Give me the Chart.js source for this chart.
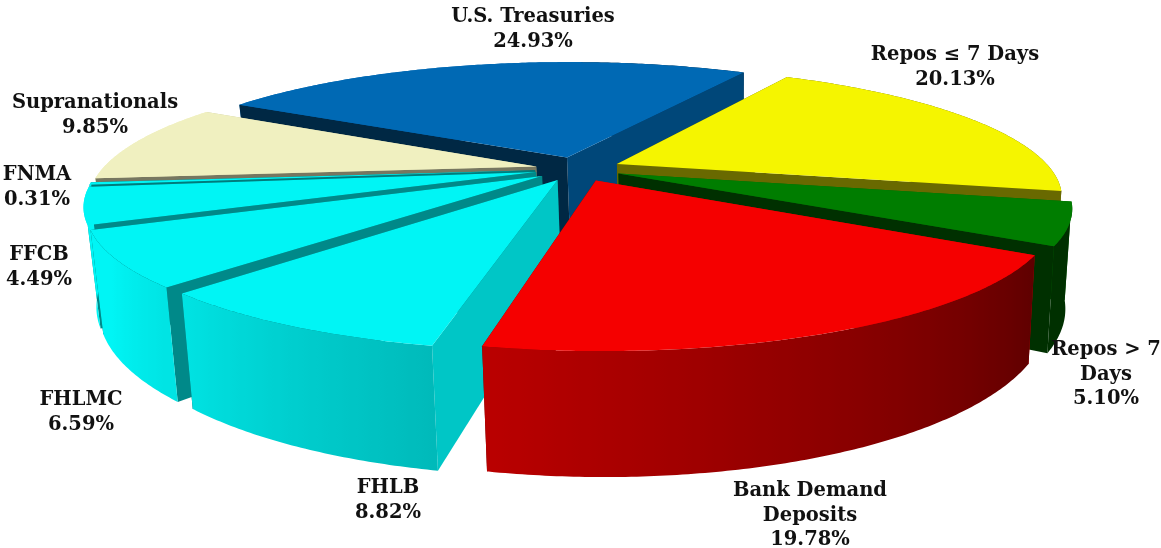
<!DOCTYPE html>
<html>
<head>
<meta charset="utf-8">
<title>Portfolio composition</title>
<script src="https://cdn.jsdelivr.net/npm/chart.js@4/dist/chart.umd.min.js"></script>
<style>
  html, body { margin: 0; padding: 0; background: #fff; }
  #wrap { position: relative; width: 1161px; height: 548px; overflow: hidden; }
</style>
</head>
<body>
<div id="wrap"><canvas id="myChart"></canvas></div>
<script>
// Data, clockwise from the left edge of U.S. Treasuries
const categories = ["U.S. Treasuries", "Repos ≤ 7 Days", "Repos > 7 Days", "Bank Demand Deposits", "FHLB", "FHLMC", "FFCB", "FNMA", "Supranationals"];
const shares = [24.93, 20.13, 5.10, 19.78, 8.82, 6.59, 4.49, 0.31, 9.85];

const sliceColors = ["#0069b4", "#f5f500", "#007d00", "#f50000", "#00f5f5", "#00f5f5", "#00f5f5", "#00f5f5", "#f0f0c0"];

// how each label wraps and where it sits
const labelWraps = [["U.S. Treasuries"], ["Repos ≤ 7 Days"], ["Repos > 7", "Days"], ["Bank Demand", "Deposits"], ["FHLB"], ["FHLMC"], ["FFCB"], ["FNMA"], ["Supranationals"]];
const labelX = [533, 955, 1106, 810, 388, 81, 39, 37, 95];
const labelY = [22, 60, 355, 496, 493, 405, 260, 180, 108];
const lineGap = 24.5;

// fake 3D camera
const tilt = 0.284;
const persp = 0.24;
const depth = 93;
const bottomShrink = 0.02;
const bottomShift = 3;

function project(arc, u, v, z) {
  const s = 1 / (1 - persp * v / arc.outerRadius);
  return {
    x: arc.x + u * s * (1 - bottomShrink * z) + bottomShift * z,
    y: arc.y + tilt * v * s + z * depth * s
  };
}

function shadeColor(hex, f) {
  const n = parseInt(hex.slice(1), 16);
  const r = Math.round(((n >> 16) & 255) * f);
  const g = Math.round(((n >> 8) & 255) * f);
  const b = Math.round((n & 255) * f);
  return "rgb(" + r + "," + g + "," + b + ")";
}

// clock angle of a chart.js angle, 0 = up, clockwise, in degrees
function clockDeg(a) {
  return (a * 180 / Math.PI + 90 + 360) % 360;
}

// outer wall gets lighter going round from the right to the left
function wallShade(a) {
  const t = clockDeg(a);
  return Math.min(1, Math.max(0.38, 0.38 + (t - 120) * 0.0053));
}

// flat cut faces, by the direction they look at
const faceAngles = [100, 120, 133, 157, 174, 192, 210];
const faceShades = [0.82, 0.67, 0.56, 0.56, 0.5, 0.43, 0.38];
function faceShade(deg) {
  if (deg <= faceAngles[0]) return faceShades[0];
  for (let i = 1; i < faceAngles.length; i++) {
    if (deg <= faceAngles[i]) {
      const t = (deg - faceAngles[i - 1]) / (faceAngles[i] - faceAngles[i - 1]);
      return faceShades[i - 1] + t * (faceShades[i] - faceShades[i - 1]);
    }
  }
  return faceShades[faceShades.length - 1];
}

function fillPoly(ctx, pts, color) {
  ctx.beginPath();
  pts.forEach((p, i) => { if (i === 0) ctx.moveTo(p.x, p.y); else ctx.lineTo(p.x, p.y); });
  ctx.closePath();
  ctx.fillStyle = color;
  ctx.fill();
}

function drawSlice(ctx, arc) {
  const color = arc.options.backgroundColor;
  const mid = (arc.startAngle + arc.endAngle) / 2;
  const ou = arc.options.offset * Math.cos(mid);
  const ov = arc.options.offset * Math.sin(mid);
  const R = arc.outerRadius;
  const p = (a, r, z) => project(arc, ou + r * Math.cos(a), ov + r * Math.sin(a), z);

  const wall = () => {
    const angles = [];
    for (let a = arc.startAngle; a < arc.endAngle; a += 0.01) angles.push(a);
    angles.push(arc.endAngle);
    const topEdge = angles.map(a => p(a, R, 0));
    const lowEdge = angles.map(a => p(a, R, 1));
    const xs = topEdge.map(q => q.x);
    const x0 = Math.min(...xs), x1 = Math.max(...xs);
    const grad = ctx.createLinearGradient(x0, 0, x1 + 0.01, 0);
    angles.forEach((a, i) => grad.addColorStop((xs[i] - x0) / (x1 + 0.01 - x0), shadeColor(color, wallShade(a))));
    fillPoly(ctx, topEdge.concat(lowEdge.reverse()), grad);
  };
  const face = (a, look) => {
    fillPoly(ctx, [p(a, 0, 0), p(a, R, 0), p(a, R, 1), p(a, 0, 1)], shadeColor(color, faceShade(look)));
  };
  const faces = () => {
    const startLook = (clockDeg(arc.startAngle) - 90 + 360) % 360;
    const endLook = (clockDeg(arc.endAngle) + 90) % 360;
    // the face turned away from us goes first
    if (Math.cos(mid) < 0) {
      face(arc.endAngle, endLook);
      face(arc.startAngle, startLook);
    } else {
      face(arc.startAngle, startLook);
      face(arc.endAngle, endLook);
    }
  };

  if (Math.sin(mid) > 0) { faces(); wall(); } else { wall(); faces(); }

  const top = [p(arc.startAngle, 0, 0)];
  for (let a = arc.startAngle; a < arc.endAngle; a += 0.01) top.push(p(a, R, 0));
  top.push(p(arc.endAngle, R, 0));
  fillPoly(ctx, top, color);
}

// draws the pie's arcs tipped over, back slices first
const tiltedPie = {
  id: "tiltedPie",
  beforeDatasetDraw(chart, args) {
    const ctx = chart.ctx;
    const arcs = chart.getDatasetMeta(args.index).data.slice();
    arcs.sort((a, b) => Math.sin((a.startAngle + a.endAngle) / 2) - Math.sin((b.startAngle + b.endAngle) / 2));
    arcs.forEach(arc => drawSlice(ctx, arc));
    return false;
  },
  afterDraw(chart) {
    const ctx = chart.ctx;
    ctx.save();
    ctx.font = "bold 19.5px 'DejaVu Serif'";
    ctx.fillStyle = "#111";
    ctx.textAlign = "center";
    ctx.textBaseline = "alphabetic";
    categories.forEach((name, i) => {
      const lines = labelWraps[i].concat(shares[i].toFixed(2) + "%");
      lines.forEach((line, j) => ctx.fillText(line, labelX[i], labelY[i] + j * lineGap));
    });
    ctx.restore();
  }
};

new Chart(document.getElementById("myChart"), {
  type: "pie",
  data: {
    labels: categories,
    datasets: [{
      data: shares,
      backgroundColor: sliceColors,
      borderWidth: 0,
      offset: 43,
      radius: 434,
      rotation: -60
    }]
  },
  options: {
    responsive: true,
    maintainAspectRatio: false,
    animation: false,
    layout: { padding: { right: 5, bottom: 210 } },
    plugins: { legend: { display: false }, tooltip: { enabled: false } }
  },
  plugins: [tiltedPie]
});
</script>
</body>
</html>
